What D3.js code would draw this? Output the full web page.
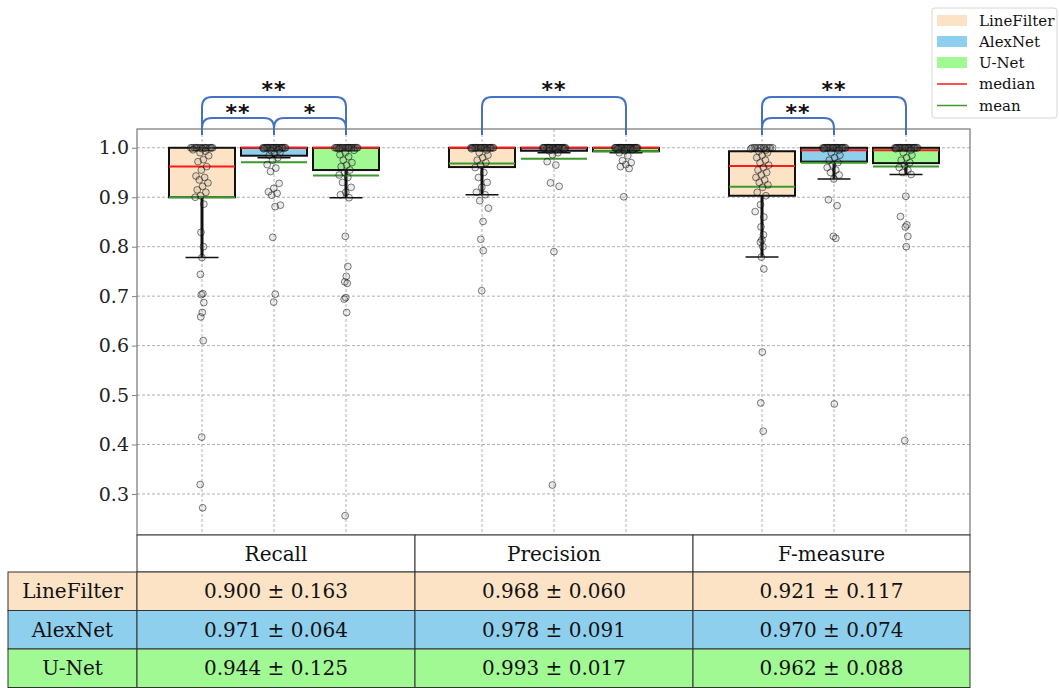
<!DOCTYPE html>
<html><head><meta charset="utf-8">
<script src="https://cdn.jsdelivr.net/npm/d3@7"></script>
<style>body{margin:0;background:#fff} svg{display:block} text{font-family:"DejaVu Serif",serif}</style>
</head><body><svg id="c" width="1059" height="688"></svg>
<script>
const metrics = ["Recall","Precision","F-measure"];
const methods = ["LineFilter","AlexNet","U-Net"];
const methodColors = ["#fce3c5","#8ecfee","#a1f994"];
const yTicks = [0.3,0.4,0.5,0.6,0.7,0.8,0.9,1.0];

// box statistics [metric][method]
const q1Vals = [[0.900,0.984,0.955],[0.961,0.994,0.993],[0.903,0.972,0.969]];
const q3Vals = [[1.000,1.000,1.000],[1.000,1.000,1.000],[0.993,1.000,1.000]];
const medianVals = [[0.962,1.000,1.000],[1.000,1.000,1.000],[0.963,0.995,0.995]];
const meanVals = [[0.900,0.971,0.944],[0.968,0.978,0.993],[0.921,0.970,0.962]];
const stdVals = [[0.163,0.064,0.125],[0.060,0.091,0.017],[0.117,0.074,0.088]];
const whiskerLowVals = [[0.778,0.980,0.899],[0.905,0.990,0.990],[0.779,0.937,0.946]];

// individual samples [metric][method]
const recallLineFilter = [1,1,1,1,1,1,1,1,1,1,1,1,1,1,1,1,0.998,0.996,0.993,0.99,0.984,0.976,0.972,0.962,0.955,0.943,0.94,0.935,0.929,0.922,0.915,0.91,0.903,0.90,0.886,0.829,0.80,0.778,0.744,0.705,0.703,0.687,0.667,0.658,0.610,0.415,0.319,0.272];
const recallAlexNet = [1,1,1,1,1,1,1,1,1,1,1,1,1,1,1,1,1,1,1,1,1,1,1,1,1,0.998,0.996,0.994,0.99,0.988,0.985,0.98,0.975,0.966,0.959,0.952,0.928,0.918,0.911,0.908,0.904,0.884,0.881,0.819,0.704,0.688];
const recallUNet = [1,1,1,1,1,1,1,1,1,1,1,1,1,1,1,1,1,1,1,1,1,1,0.998,0.995,0.99,0.986,0.982,0.975,0.97,0.965,0.962,0.955,0.95,0.945,0.94,0.93,0.92,0.91,0.905,0.899,0.821,0.760,0.740,0.729,0.726,0.697,0.694,0.667,0.256];
const precisionLineFilter = [1,1,1,1,1,1,1,1,1,1,1,1,1,1,1,1,1,1,1,1,1,1,1,1,1,0.998,0.995,0.99,0.985,0.98,0.975,0.97,0.965,0.96,0.95,0.94,0.93,0.92,0.91,0.905,0.893,0.878,0.851,0.815,0.792,0.711];
const precisionAlexNet = [1,1,1,1,1,1,1,1,1,1,1,1,1,1,1,1,1,1,1,1,1,1,1,1,1,1,1,1,0.998,0.996,0.994,0.99,0.986,0.972,0.965,0.929,0.922,0.790,0.318];
const precisionUNet = [1,1,1,1,1,1,1,1,1,1,1,1,1,1,1,1,1,1,1,1,1,1,1,1,1,1,1,1,1,1,0.998,0.996,0.994,0.99,0.984,0.974,0.97,0.966,0.962,0.958,0.901];
const fLineFilter = [1,1,1,1,1,1,1,1,1,1,1,1,0.998,0.995,0.993,0.99,0.985,0.98,0.975,0.97,0.965,0.96,0.955,0.95,0.945,0.94,0.935,0.93,0.925,0.92,0.91,0.903,0.885,0.871,0.86,0.84,0.824,0.814,0.809,0.80,0.779,0.755,0.587,0.484,0.427];
const fAlexNet = [1,1,1,1,1,1,1,1,1,1,1,1,1,1,1,1,1,1,1,1,1,1,1,1,1,0.998,0.995,0.99,0.985,0.98,0.975,0.97,0.965,0.96,0.955,0.95,0.945,0.937,0.895,0.883,0.821,0.817,0.482];
const fUNet = [1,1,1,1,1,1,1,1,1,1,1,1,1,1,1,1,1,1,1,1,1,1,1,1,1,0.998,0.995,0.99,0.985,0.98,0.975,0.97,0.965,0.96,0.955,0.95,0.946,0.902,0.861,0.844,0.84,0.821,0.800,0.408];
const samples = [[recallLineFilter,recallAlexNet,recallUNet],[precisionLineFilter,precisionAlexNet,precisionUNet],[fLineFilter,fAlexNet,fUNet]];

// significance brackets
const bracketMetric = [0,0,0,1,2,2];
const bracketFrom = [0,0,1,0,0,0];
const bracketTo = [2,1,2,2,2,1];
const bracketLevel = [0,1,1,0,0,1];
const bracketLabel = ["**","**","*","**","**","**"];

const svg = d3.select("#c");
const L=137, R=970, T=129, B=535;
const y = d3.scaleLinear().domain([0.217,1.038]).range([B,T]);
const xg = d3.scaleLinear().domain([0,2]).range([274,834]);
const xo = d3.scaleLinear().domain([0,2]).range([-72,72]);
const xPos = (g,m)=>xg(g)+xo(m);
const boxW = 66;

// grid
const grid = svg.append("g");
grid.selectAll("line.h").data(yTicks).join("line")
  .attr("x1",L).attr("x2",R).attr("y1",d=>y(d)).attr("y2",d=>y(d))
  .attr("stroke","#b0b0b0").attr("stroke-dasharray","3,2").attr("stroke-width",1);
const positions = [];
metrics.forEach((_,g)=>methods.forEach((_,m)=>positions.push([g,m])));
grid.selectAll("line.v").data(positions).join("line")
  .attr("x1",d=>xPos(d[0],d[1])).attr("x2",d=>xPos(d[0],d[1])).attr("y1",T).attr("y2",B)
  .attr("stroke","#b0b0b0").attr("stroke-dasharray","3,2").attr("stroke-width",1);

// boxes
const bx = svg.append("g");
positions.forEach(([g,m])=>{
  const cx = xPos(g,m);
  bx.append("line").attr("x1",cx).attr("x2",cx).attr("y1",y(q1Vals[g][m])).attr("y2",y(whiskerLowVals[g][m]))
    .attr("stroke","#111").attr("stroke-width",3);
  bx.append("line").attr("x1",cx-boxW/4).attr("x2",cx+boxW/4).attr("y1",y(whiskerLowVals[g][m])).attr("y2",y(whiskerLowVals[g][m]))
    .attr("stroke","#111").attr("stroke-width",1.5);
  bx.append("rect").attr("x",cx-boxW/2).attr("width",boxW)
    .attr("y",y(q3Vals[g][m])).attr("height",Math.max(0,y(q1Vals[g][m])-y(q3Vals[g][m])))
    .attr("fill",methodColors[m]).attr("stroke","#111").attr("stroke-width",2);
  bx.append("line").attr("x1",cx-boxW/2).attr("x2",cx+boxW/2).attr("y1",y(meanVals[g][m])).attr("y2",y(meanVals[g][m]))
    .attr("stroke","#3a9a2a").attr("stroke-width",2);
  bx.append("line").attr("x1",cx-boxW/2).attr("x2",cx+boxW/2).attr("y1",y(medianVals[g][m])).attr("y2",y(medianVals[g][m]))
    .attr("stroke","#ff1a1a").attr("stroke-width",2);
});

// points (deterministic strip jitter)
const pts = svg.append("g");
positions.forEach(([g,m])=>{
  const cx = xPos(g,m);
  pts.selectAll(null).data(samples[g][m]).join("circle")
    .attr("cx",(d,i)=>{ const f=((i+1)*0.6180339887)%1 - 0.5; const a = d>=0.995?24:(d>=0.85?14:4); return cx + f*a; })
    .attr("cy",d=>y(d)).attr("r",3.4)
    .attr("fill","rgba(128,128,128,0.15)").attr("stroke","rgba(0,0,0,0.5)").attr("stroke-width",1);
});

// frame
svg.append("rect").attr("x",L).attr("y",T).attr("width",R-L).attr("height",B-T)
  .attr("fill","none").attr("stroke","#808080").attr("stroke-width",1.3);

// y axis
const ax = svg.append("g").attr("transform",`translate(${L},0)`)
  .call(d3.axisLeft(y).tickValues(yTicks).tickFormat(d3.format(".1f")).tickSize(5).tickPadding(3));
ax.select(".domain").remove();
ax.selectAll(".tick line").attr("stroke","#808080");
ax.selectAll("text").attr("font-size",19).attr("fill","#222").style("font-family","DejaVu Serif");

// brackets
const levelTop = [97,118];
const labelBase = [97,120];
const legBottom = 135;
const br = svg.append("g");
bracketMetric.forEach((g,k)=>{
  const x1 = xPos(g,bracketFrom[k]), x2 = xPos(g,bracketTo[k]);
  const top = levelTop[bracketLevel[k]], r = 10;
  const p = d3.path();
  p.moveTo(x1,legBottom); p.lineTo(x1,top+r); p.quadraticCurveTo(x1,top,x1+r,top);
  p.lineTo(x2-r,top); p.quadraticCurveTo(x2,top,x2,top+r); p.lineTo(x2,legBottom);
  br.append("path").attr("d",p.toString()).attr("fill","none").attr("stroke","#4472c4").attr("stroke-width",2);
  br.append("text").attr("x",(x1+x2)/2).attr("y",labelBase[bracketLevel[k]]).attr("text-anchor","middle")
    .attr("font-size",22).attr("font-weight","bold").attr("letter-spacing",1).style("font-family","DejaVu Sans")
    .attr("fill","#111").text(bracketLabel[k]);
});

// table
const colX = [137,415,693,970];
const rowY = [535,572,610.5,649,687.5];
const tb = svg.append("g");
metrics.forEach((mt,c)=>{
  tb.append("rect").attr("x",colX[c]).attr("y",rowY[0]).attr("width",colX[c+1]-colX[c]).attr("height",rowY[1]-rowY[0])
    .attr("fill","#fff").attr("stroke","#333").attr("stroke-width",1);
  tb.append("text").attr("x",(colX[c]+colX[c+1])/2).attr("y",(rowY[0]+rowY[1])/2).attr("dy","0.35em")
    .attr("text-anchor","middle").attr("font-size",20).attr("fill","#111").text(mt);
});
methods.forEach((md,r)=>{
  tb.append("rect").attr("x",8).attr("y",rowY[r+1]).attr("width",137-8).attr("height",rowY[r+2]-rowY[r+1])
    .attr("fill",methodColors[r]).attr("stroke","#333").attr("stroke-width",1);
  tb.append("text").attr("x",(8+137)/2).attr("y",(rowY[r+1]+rowY[r+2])/2).attr("dy","0.35em")
    .attr("text-anchor","middle").attr("font-size",20).attr("fill","#111").text(md);
  metrics.forEach((mt,c)=>{
    tb.append("rect").attr("x",colX[c]).attr("y",rowY[r+1]).attr("width",colX[c+1]-colX[c]).attr("height",rowY[r+2]-rowY[r+1])
      .attr("fill",methodColors[r]).attr("stroke","#333").attr("stroke-width",1);
    tb.append("text").attr("x",(colX[c]+colX[c+1])/2).attr("y",(rowY[r+1]+rowY[r+2])/2).attr("dy","0.35em")
      .attr("text-anchor","middle").attr("font-size",20).attr("fill","#111")
      .text(`${meanVals[c][r].toFixed(3)} ± ${stdVals[c][r].toFixed(3)}`);
  });
});

// legend
const lg = svg.append("g");
lg.append("rect").attr("x",932).attr("y",8).attr("width",125).attr("height",110).attr("rx",3)
  .attr("fill","#fff").attr("fill-opacity",0.85).attr("stroke","#d6d6d6");
const legLabels = methods.concat(["median","mean"]);
const legY = [20.5,41.5,62.5,84,105.5];
legLabels.forEach((t,i)=>{
  if(i<3){
    lg.append("rect").attr("x",937).attr("y",legY[i]-5.5).attr("width",30).attr("height",11).attr("fill",methodColors[i]);
  } else {
    lg.append("line").attr("x1",937).attr("x2",967).attr("y1",legY[i]).attr("y2",legY[i])
      .attr("stroke",i===3?"#ff1a1a":"#3a9a2a").attr("stroke-width",1.5);
  }
  lg.append("text").attr("x",979).attr("y",legY[i]).attr("dy","0.35em").attr("font-size",15).attr("fill","#111").text(t);
});
</script></body></html>
